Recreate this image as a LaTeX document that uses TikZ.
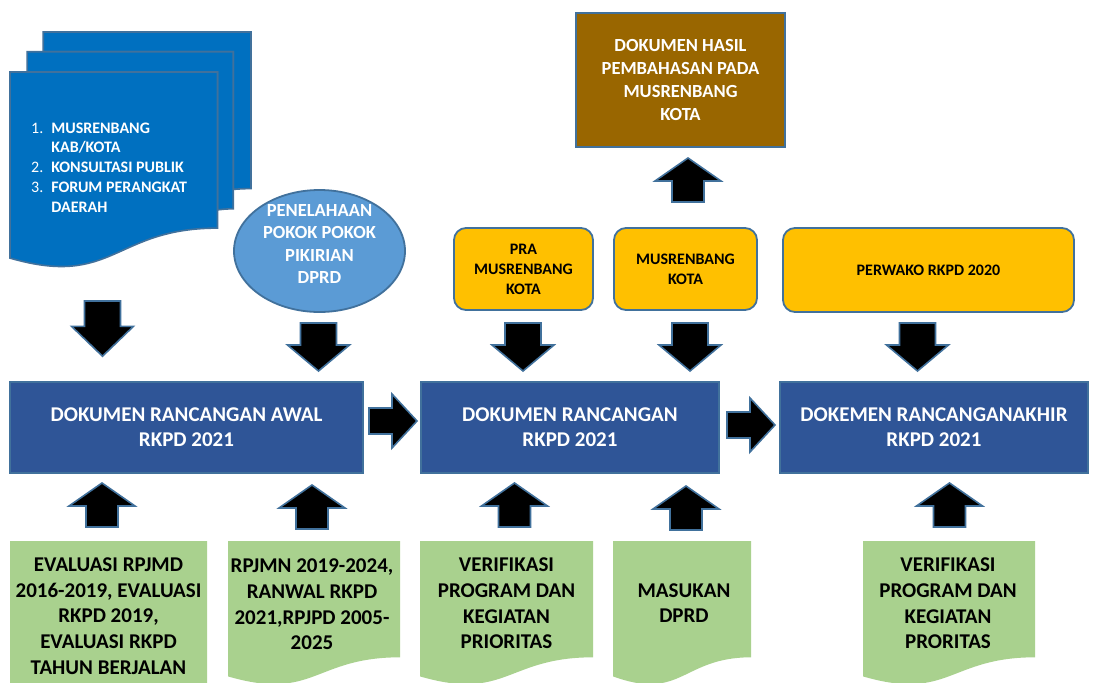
\documentclass[tikz,border=0pt]{standalone}
\usepackage{fontspec}
\setmainfont{Carlito}
\usetikzlibrary{shapes.geometric}
\definecolor{edgeblue}{HTML}{41719C}
\definecolor{stackblue}{HTML}{0070C0}
\definecolor{boxblue}{HTML}{2F5597}
\definecolor{ovalblue}{HTML}{5B9BD5}
\definecolor{hasilbrown}{HTML}{996600}
\definecolor{gold}{HTML}{FFC000}
\definecolor{leaf}{HTML}{A9D18E}

\begin{document}
\begin{tikzpicture}[x=1pt,y=-1pt,
    fat/.style={fill=black,draw=edgeblue,line width=1.6pt},
    sheet/.style={fill=stackblue,draw=edgeblue,line width=1.6pt},
    rkpd/.style={rectangle,fill=boxblue,draw=edgeblue,line width=1.8pt,minimum height=91,
      text=white,align=center,font=\fontsize{21}{25}\selectfont\bfseries},
    tahap/.style={rectangle,rounded corners=12,fill=gold,draw=edgeblue,line width=1.8pt,
      minimum height=82,align=center,font=\fontsize{16}{20}\selectfont\bfseries},
    masukantext/.style={align=center,inner sep=0pt,font=\fontsize{21}{25.6}\selectfont\bfseries},
    downarr/.pic={\draw[fat] (-18,0) -- (18,0) -- (18,22) -- (31,22) -- (0,48) -- (-31,22) -- (-18,22) -- cycle;},
    uparr/.pic={\draw[fat] (-16,0) -- (16,0) -- (16,-21) -- (33,-21) -- (0,-44) -- (-33,-21) -- (-16,-21) -- cycle;},
    rightarr/.pic={\draw[fat] (0,-13) -- (23,-13) -- (23,-27) -- (48,0) -- (23,27) -- (23,13) -- (0,13) -- cycle;}]
\clip (0,0) rectangle (1096,683);
\fill[white] (0,0) rectangle (1096,683);

\draw[sheet] (43.2,51.7) -- (43.2,32) -- (251,32) -- (251,188.6) .. controls (242.1,188.6) and (233.2,189.4) .. (233.2,189.4) -- (233.2,51.7) -- cycle;
\draw[sheet] (27.1,72) -- (27.1,51.7) -- (233.2,51.7) -- (233.2,208.8) .. controls (225.3,208.8) and (217.5,209.9) .. (217.5,209.9) -- (217.5,72) -- cycle;
\draw[sheet] (10,258.1) .. controls (113.7,288.1) and (113.7,228.1) .. (217.5,228.1) -- (217.5,72) -- (10,72) -- cycle;
\node[anchor=base west,inner sep=0pt,text=white,font=\fontsize{16}{19.7}\selectfont] (forum) at (31,133)
  {\begin{tabular}[t]{@{}r@{\hspace{8pt}}l@{}}
    1. & \textbf{MUSRENBANG}\\
       & \textbf{KAB/KOTA}\\
    2. & \textbf{KONSULTASI PUBLIK}\\
    3. & \textbf{FORUM PERANGKAT}\\[0.4pt]
       & \textbf{DAERAH}
  \end{tabular}};

\node[ellipse,fill=ovalblue,draw=edgeblue,line width=1.8pt,minimum width=171,minimum height=122,inner sep=0pt] (pokir) at (319.5,251) {};
\node[text=white,align=center,inner sep=0pt,font=\fontsize{18.5}{22.3}\selectfont\bfseries] (pokirtext) at (319.5,244)
  {PENELAHAAN\\POKOK POKOK\\PIKIRIAN\\DPRD};

\node[rectangle,fill=hasilbrown,draw=edgeblue,line width=1.8pt,minimum width=209,minimum height=134,
  text=white,align=center,font=\fontsize{18.5}{22.7}\selectfont\bfseries] (hasil) at (680.5,80)
  {DOKUMEN HASIL\\PEMBAHASAN PADA\\MUSRENBANG\\KOTA};

\node[tahap,minimum width=139] (pra) at (523.5,269) {PRA\\MUSRENBANG\\KOTA};
\node[tahap,minimum width=143] (musrkota) at (685.5,269) {MUSRENBANG\\KOTA};
\node[tahap,minimum width=291,minimum height=84] (perwako) at (928.5,270) {PERWAKO RKPD 2020};

\node[rkpd,minimum width=353] (awal) at (186.5,427.5) {DOKUMEN RANCANGAN AWAL\\RKPD 2021};
\node[rkpd,minimum width=298] (rancangan) at (570,427.5) {DOKUMEN RANCANGAN\\RKPD 2021};
\node[rkpd,minimum width=308] (akhir) at (934,427.5) {DOKEMEN RANCANGANAKHIR\\RKPD 2021};

\fill[leaf] (10,541) -- (207,541) -- (207,685.4) .. controls (108.5,685.4) and (108.5,740) .. (10,709) -- cycle;
\fill[leaf] (228,541) -- (400,541) -- (400,657.3) .. controls (314,657.3) and (314,701.5) .. (228,676.4) -- cycle;
\fill[leaf] (420,541) -- (593,541) -- (593,657.3) .. controls (506.5,657.3) and (506.5,701.5) .. (420,676.4) -- cycle;
\fill[leaf] (613,541) -- (751,541) -- (751,657.3) .. controls (682,657.3) and (682,701.5) .. (613,676.4) -- cycle;
\fill[leaf] (863,541) -- (1035,541) -- (1035,657.3) .. controls (949,657.3) and (949,701.5) .. (863,676.4) -- cycle;
\node[masukantext] (evaluasi) at (108.5,616) {EVALUASI RPJMD\\2016-2019, EVALUASI\\RKPD 2019,\\EVALUASI RKPD\\TAHUN BERJALAN};
\node[masukantext] (rpjmn) at (312,604.5) {RPJMN 2019-2024,\\RANWAL RKPD\\2021,RPJPD 2005-\\2025};
\node[masukantext] (verif) at (506.5,603.5) {VERIFIKASI\\PROGRAM DAN\\KEGIATAN\\PRIORITAS};
\node[masukantext] (masukan) at (684,603) {MASUKAN\\DPRD};
\node[masukantext] (verifakhir) at (948,603.5) {VERIFIKASI\\PROGRAM DAN\\KEGIATAN\\PRORITAS};

\pic[yscale=1.15] at (102.5,301) {downarr};
\pic at (318.5,323) {downarr};
\pic at (523,323) {downarr};
\pic at (690,323) {downarr};
\pic at (917.5,323) {downarr};
\pic at (369,421) {rightarr};
\pic at (727,425) {rightarr};
\pic at (102,527) {uparr};
\pic at (312,529) {uparr};
\pic at (514.5,527) {uparr};
\pic at (686,530) {uparr};
\pic at (949.5,527) {uparr};
\pic at (688,202) {uparr};
\end{tikzpicture}
\end{document}
